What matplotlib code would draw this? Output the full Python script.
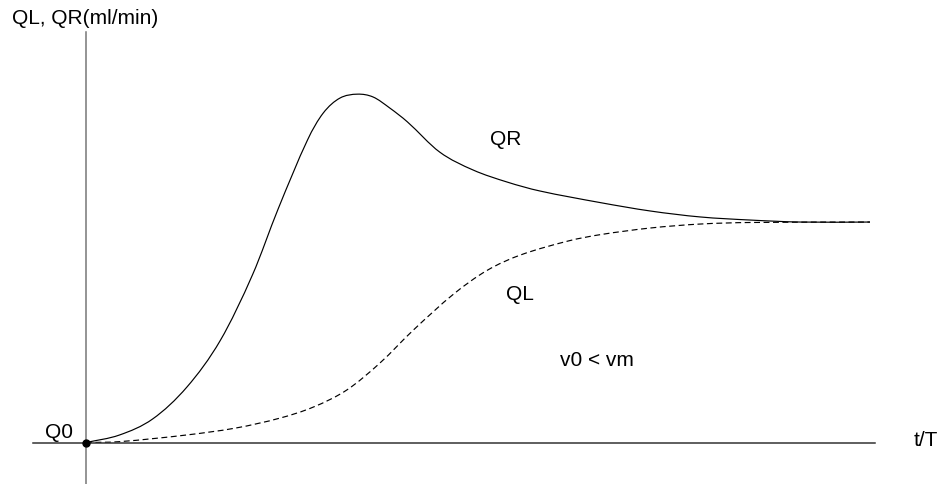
import matplotlib.pyplot as plt
from matplotlib.path import Path
from matplotlib.patches import PathPatch

plt.rcParams['font.family'] = ['Liberation Sans', 'DejaVu Sans']

# t/T values and flows (normalised to the steady value)
t_qr = [0, 0.34, 0.68, 1.03, 1.37, 1.70, 1.96, 2.26, 2.42, 2.59, 2.77, 2.93,
        3.10, 3.28, 3.61, 3.95, 4.30, 4.63, 5.25, 5.76, 6.27, 6.78, 7.29, 8.0]
qr = [0, 0.034, 0.107, 0.252, 0.463, 0.762, 1.059, 1.372, 1.494, 1.562, 1.580,
      1.567, 1.517, 1.454, 1.317, 1.236, 1.181, 1.141, 1.088, 1.050, 1.023,
      1.009, 1.0, 1.0]

t_ql = [0, 0.34, 1.02, 1.53, 1.98, 2.32, 2.66, 3.0, 3.34, 3.75, 4.09, 4.43,
        4.92, 5.25, 5.76, 6.27, 6.78, 8.0]
ql = [0, 0.004, 0.034, 0.066, 0.111, 0.161, 0.238, 0.361, 0.510, 0.673, 0.780,
      0.850, 0.914, 0.943, 0.973, 0.991, 0.998, 1.0]


def smooth_path(xs, ys):
    # cubic hermite path through the read points, slopes from neighbours
    n = len(xs)
    m = []
    for i in range(n):
        a, b = max(i - 1, 0), min(i + 1, n - 1)
        m.append((ys[b] - ys[a]) / (xs[b] - xs[a]))
    verts = [(xs[0], ys[0])]
    codes = [Path.MOVETO]
    for i in range(n - 1):
        h = (xs[i + 1] - xs[i]) / 3
        verts += [(xs[i] + h, ys[i] + m[i] * h),
                  (xs[i + 1] - h, ys[i + 1] - m[i + 1] * h),
                  (xs[i + 1], ys[i + 1])]
        codes += [Path.CURVE4] * 3
    return Path(verts, codes)


W, H = 942, 484
fig = plt.figure(figsize=(W / 100, H / 100), dpi=100)
ax = fig.add_axes([0, 0, 1, 1])
ax.set_xlim(-0.878, 8.735)
ax.set_ylim(-0.188, 2.007)

ax.add_patch(PathPatch(smooth_path(t_qr, qr), fill=False, edgecolor="black", lw=0.85))
ax.add_patch(PathPatch(smooth_path(t_ql, ql), fill=False, edgecolor="black", lw=0.85,
                       linestyle=(0, (5, 3))))
ax.plot([0], [0], "o", color="black", markersize=5, zorder=5)

# axes through the origin
for side in ["top", "right"]:
    ax.spines[side].set_visible(False)
ax.spines["left"].set_position(("data", 0))
ax.spines["bottom"].set_position(("data", 0))
ax.spines["left"].set_bounds(-0.19, 1.86)
ax.spines["bottom"].set_bounds(-0.54, 8.05)
ax.spines["left"].set_color("#777777")
ax.spines["bottom"].set_color("#333333")
ax.spines["left"].set_linewidth(1.1)
ax.spines["bottom"].set_linewidth(1.1)
ax.set_xticks([])
ax.set_yticks([])
ax.patch.set_visible(False)

fs = 15
def label(x, y, s, ha="center"):
    fig.text(x / W, 1 - y / H, s, ha=ha, va="center", fontsize=fs)

label(12, 18, "QL, QR(ml/min)", ha="left")
label(506, 140, "QR")
label(520, 294, "QL")
label(597, 361, "v0 < vm")
label(59, 433, "Q0")
label(926, 440, "t/T")

fig.savefig("out.png", dpi=100)
